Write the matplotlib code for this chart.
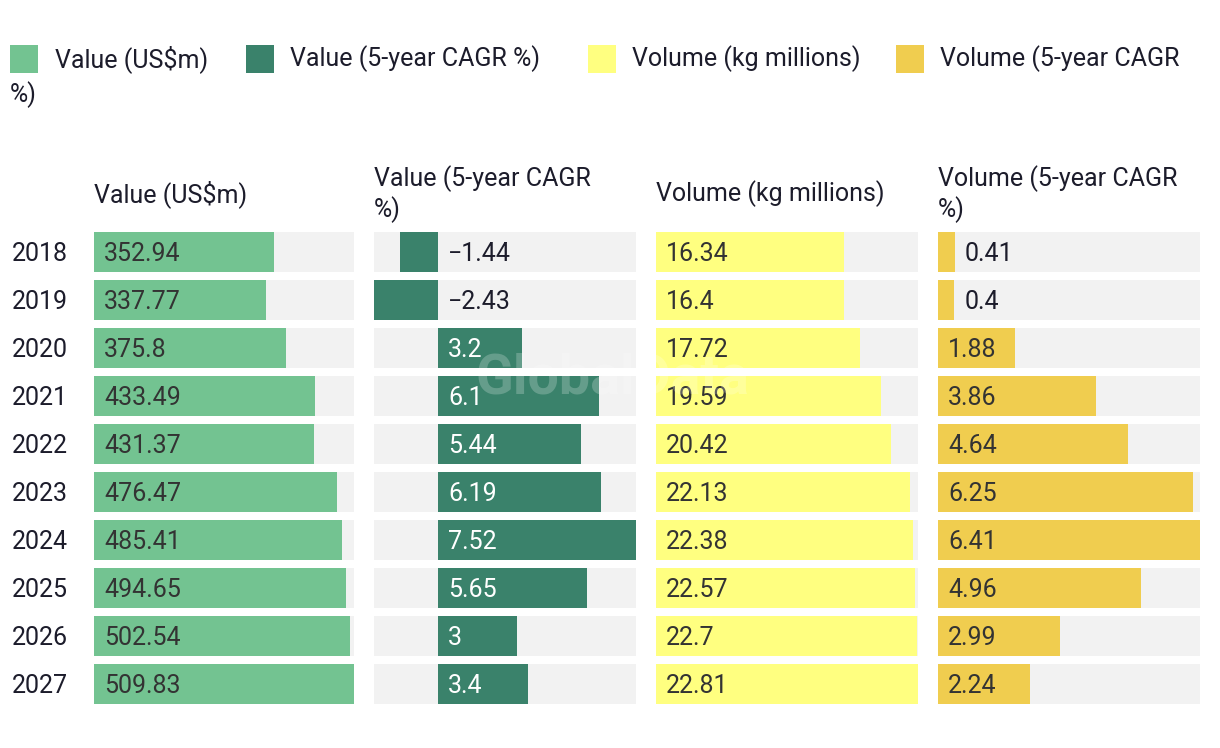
import matplotlib
matplotlib.use("Agg")
import matplotlib.pyplot as plt
from matplotlib.patches import Rectangle

plt.rcParams['font.family'] = ['Roboto', 'DejaVu Sans']

years = ["2018", "2019", "2020", "2021", "2022", "2023", "2024", "2025", "2026", "2027"]
value_usd = [352.94, 337.77, 375.8, 433.49, 431.37, 476.47, 485.41, 494.65, 502.54, 509.83]
value_cagr = [-1.44, -2.43, 3.2, 6.1, 5.44, 6.19, 7.52, 5.65, 3, 3.4]
volume_kg = [16.34, 16.4, 17.72, 19.59, 20.42, 22.13, 22.38, 22.57, 22.7, 22.81]
volume_cagr = [0.41, 0.4, 1.88, 3.86, 4.64, 6.25, 6.41, 4.96, 2.99, 2.24]

headers = ["Value (US$m)", "Value (5-year CAGR\n%)", "Volume (kg millions)", "Volume (5-year CAGR\n%)"]
leg_labels = ["Value (US$m)", "Value (5-year CAGR %)", "Volume (kg millions)", "Volume (5-year CAGR"]
colors = ["#73c391", "#3a826b", "#ffff80", "#f0cd4f"]
label_colors_on_bar = ["#333333", "#ffffff", "#333333", "#333333"]
series = [value_usd, value_cagr, volume_kg, volume_cagr]

W, H = 1220, 748
fig = plt.figure(figsize=(W / 100, H / 100), dpi=100)
TXT = "#1c1c2b"
FS = 18

def fx(px):
    return px / W

def fy(py):
    return 1 - py / H

# Legend
leg_sq_x = [10, 246, 588, 896]
leg_txt_x = [55, 290, 632, 940]
for sx, tx, lab, c in zip(leg_sq_x, leg_txt_x, leg_labels, colors):
    fig.patches.append(Rectangle((fx(sx), fy(73)), 28 / W, 28 / H, transform=fig.transFigure,
                                 facecolor=c, edgecolor='none'))
    fig.text(fx(tx), fy(59), lab, fontsize=FS, color=TXT, va='center', ha='left')
fig.text(fx(10), fy(95), "%)", fontsize=FS, color=TXT, va='center', ha='left')

# Columns
col_left = [94, 374, 656, 938]
col_right = [354, 636, 918, 1200]
top_px, bot_px = 228, 708
n = len(years)
bar_h = 40 / 48

for k in range(4):
    vals = series[k]
    ax = fig.add_axes([fx(col_left[k]), fy(bot_px), (col_right[k] - col_left[k]) / W, (bot_px - top_px) / H])
    xmin = min(0, min(vals))
    xmax = max(vals)
    ax.set_xlim(xmin, xmax)
    ax.set_ylim(n - 0.5, -0.5)
    ypos = list(range(n))
    ax.barh(ypos, [xmax - xmin] * n, left=xmin, height=bar_h, color="#f2f2f2", edgecolor='none')
    ax.barh(ypos, vals, height=bar_h, color=colors[k], edgecolor='none')
    span = xmax - xmin
    px_per_unit = (col_right[k] - col_left[k]) / span
    pad = 10 / px_per_unit
    for i, v in enumerate(vals):
        txt = f"{v}".replace("-", "\u2212")
        bar_px = v * px_per_unit
        if v > 0 and bar_px >= 60:
            x0, lc = pad, label_colors_on_bar[k]
        elif v > 0:
            x0, lc = v + pad, TXT
        else:
            x0, lc = pad, TXT
        ax.text(x0, i + 0.04, txt, fontsize=FS, color=lc, va='center', ha='left')
    ax.axis('off')
    fig.text(fx(col_left[k]), fy(194), headers[k], fontsize=FS, color=TXT, va='center', ha='left',
             linespacing=1.2)

# Year labels
for i, yr in enumerate(years):
    fig.text(fx(12), fy(254 + 48 * i), yr, fontsize=FS, color=TXT, va='center', ha='left')

# Watermark
fig.text(fx(612), fy(378), "GlobalData", fontsize=40, fontweight='bold', color='white', alpha=0.22,
         ha='center', va='center', zorder=10)

fig.savefig("out.png", dpi=100, facecolor='white')
